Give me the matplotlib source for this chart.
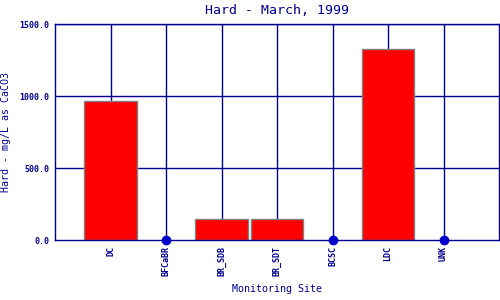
import numpy as np
import matplotlib
matplotlib.use("Agg")
import matplotlib.pyplot as plt

sites = ["DC", "BFCaBR", "BR_SDB", "BR_SDT", "BCSC", "LDC", "UNK"]
hardness = [965.0, 0.0, 146.0, 146.0, 0.0, 1326.0, 0.0]
yticks = [0.0, 500.0, 1000.0, 1500.0]

navy = "#000090"
mono = ["DejaVu Sans Mono", "Liberation Mono"]

fig = plt.figure(figsize=(5, 3), dpi=100)
ax = fig.add_axes([0.11, 0.2, 0.888, 0.72])

x = np.arange(1, len(sites) + 1)
vals = np.array(hardness)

# grid underneath the bars
for xi in x:
    ax.axvline(xi, color=navy, lw=1, zorder=1)
for yt in yticks[1:]:
    ax.axhline(yt, color=navy, lw=1, zorder=1)

has = vals > 0
ax.bar(x[has], vals[has], width=0.94, color="#ff0000", edgecolor="#808080",
       linewidth=1, zorder=2)
ax.plot(x[~has], vals[~has], "o", color="#0000cc", markersize=6,
        clip_on=False, zorder=4)

ax.set_xlim(0, len(sites) + 1)
ax.set_ylim(0, 1500)
ax.set_xticks(x)
ax.set_xticklabels(sites, rotation=90, fontsize=6, family=mono, color=navy,
                   fontweight="bold")
ax.set_yticks(yticks)
ax.set_yticklabels([f"{v:.1f}" for v in yticks], fontsize=6, family=mono,
                   color=navy, fontweight="bold")
ax.tick_params(length=0, pad=4)
for s in ax.spines.values():
    s.set_color(navy)
    s.set_linewidth(1)

ax.set_title("Hard - March, 1999", fontsize=9.5, family=mono, color=navy, pad=7)
ax.set_xlabel("Monitoring Site", fontsize=7.2, family=mono, color=navy, labelpad=6)
ax.set_ylabel("Hard - mg/L as CaCO3", fontsize=7.2, family=mono, color=navy, labelpad=6)

fig.savefig("out.png", dpi=100)
